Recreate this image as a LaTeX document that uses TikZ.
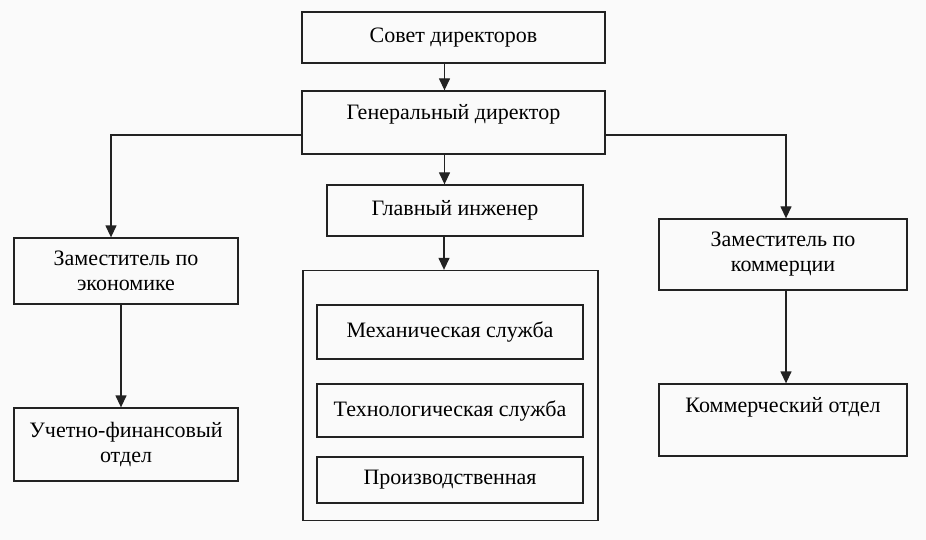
\documentclass[tikz,border=0pt]{standalone}
\usepackage{fontspec}
\setmainfont{Liberation Serif}
\usetikzlibrary{arrows.meta,positioning}
\definecolor{lineGray}{HTML}{222222}
\definecolor{paperWhite}{HTML}{FAFAFA}
\tikzset{
  unit/.style={draw=lineGray,line width=1.3pt,inner sep=0pt,align=center,font=\fontsize{22}{25}\selectfont},
  arr/.style={draw=lineGray,line width=1.3pt,-{Triangle[width=11pt,length=12pt]}}
}

\begin{document}
\begin{tikzpicture}[x=1pt,y=-1pt]
\fill[paperWhite] (0,0) rectangle (926,540);
\useasboundingbox (0,0) rectangle (926,540);
% top of the chart
\node[unit,minimum width=303pt,minimum height=51pt] (sovet) at (453.5,37.5) {Совет директоров};
\node[unit,minimum width=303pt,minimum height=63pt,text depth=22pt] (gendir) at (453.5,122.5) {Генеральный директор};
% engineering branch
\node[unit,minimum width=256pt,minimum height=51pt] (glinzh) at (455,210.5) {Главный инженер};
\node[draw=lineGray,line width=1.3pt,minimum width=295pt,minimum height=250pt] (sluzhby) at (450.5,395.5) {};
\node[unit,minimum width=266pt,minimum height=54pt] (mech) at (450,332) {Механическая служба};
\node[unit,minimum width=266pt,minimum height=53pt] (tech) at (450,410.5) {Технологическая служба};
\node[unit,minimum width=266pt,minimum height=46pt] (proizv) at (450,480) {Производственная};
% left and right branches
\node[unit,minimum width=224pt,minimum height=66pt] (zamecon) at (126,271) {Заместитель по\\экономике};
\node[unit,minimum width=224pt,minimum height=73pt] (uchet) at (126,444.5) {Учетно-финансовый\\отдел};
\node[unit,minimum width=248pt,minimum height=71pt] (zamkom) at (783,254.5) {Заместитель по\\коммерции};
\node[unit,minimum width=248pt,minimum height=72pt,text depth=30pt] (komotd) at (783,420) {Коммерческий отдел};
% connectors
\draw[arr] ([xshift=-9pt]sovet.south) -- ([xshift=-9pt]sovet.south |- gendir.north);
\draw[arr] ([xshift=-9pt]gendir.south) -- ([xshift=-9pt]gendir.south |- glinzh.north);
\draw[arr] ([xshift=-11pt]glinzh.south) -- ([xshift=-11pt]glinzh.south |- sluzhby.north);
\draw[arr] ([yshift=-12.5pt]gendir.west) -| ([xshift=-15pt]zamecon.north);
\draw[arr] ([yshift=-12.5pt]gendir.east) -| ([xshift=3pt]zamkom.north);
\draw[arr] ([xshift=-5pt]zamecon.south) -- ([xshift=-5pt]uchet.north);
\draw[arr] ([xshift=3pt]zamkom.south) -- ([xshift=3pt]komotd.north);
\end{tikzpicture}
\end{document}
